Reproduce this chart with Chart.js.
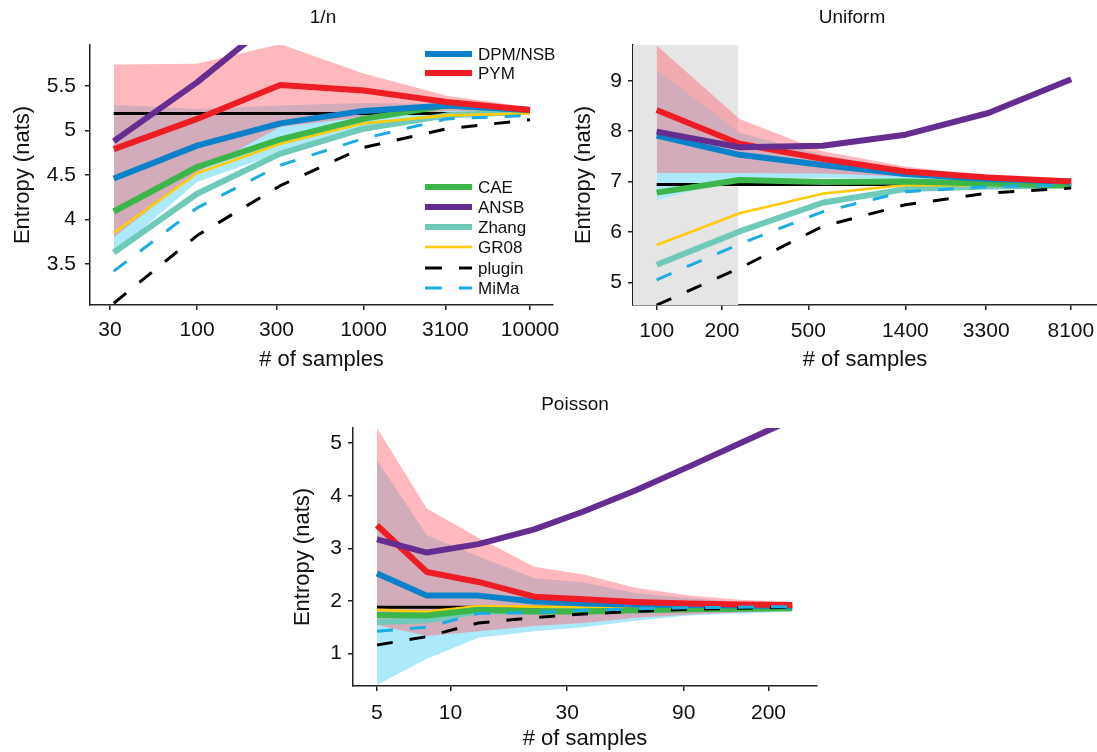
<!DOCTYPE html>
<html>
<head>
<meta charset="utf-8">
<title>Entropy estimators</title>
<script src="https://cdn.jsdelivr.net/npm/chart.js@4.4.1/dist/chart.umd.min.js"></script>
<style>
  body { margin: 0; background: #fff; width: 1097px; height: 752px; overflow: hidden; position: relative;
         font-family: "Liberation Sans", Arial, Helvetica, sans-serif; }
  canvas { position: absolute; }
  .panel-title { position: absolute; width: 240px; text-align: center; font-size: 19px; line-height: 20px; color: #111; z-index: 2; }
</style>
</head>
<body>
<canvas id="chartInvN" width="560" height="380" style="left:0;top:0"></canvas>
<canvas id="chartUniform" width="537" height="380" style="left:560px;top:0"></canvas>
<canvas id="chartPoisson" width="560" height="372" style="left:280px;top:380px"></canvas>
<div class="panel-title" style="left:203px;top:7px;">1/n</div>
<div class="panel-title" style="left:732px;top:7px;">Uniform</div>
<div class="panel-title" style="left:455px;top:394px;">Poisson</div>
<script>
// ---- 1/n panel ----
const invN_n = [31.6, 100, 316, 1000, 3162, 10000];
const invN_ticksX = [30, 100, 300, 1000, 3100, 10000];
const invN_ticksY = [3.5, 4, 4.5, 5, 5.5];
const invN_truth = [5.19, 5.19, 5.19, 5.19, 5.19, 5.19];
const invN_dpm = [4.46, 4.83, 5.08, 5.22, 5.28, 5.23];
const invN_pym = [4.79, 5.13, 5.51, 5.45, 5.32, 5.23];
const invN_cae = [4.09, 4.59, 4.9, 5.13, 5.28, 5.23];
const invN_ansb = [4.88, 5.54, 6.3, null, null, null];
const invN_zhang = [3.63, 4.29, 4.74, 5.02, 5.17, 5.21];
const invN_gr08 = [3.85, 4.52, 4.85, 5.08, 5.17, 5.19];
const invN_plugin = [3.06, 3.82, 4.38, 4.81, 5.02, 5.12];
const invN_mima = [3.42, 4.13, 4.61, 4.91, 5.13, 5.17];
const invN_cyanLo = [3.62, 4.42, 4.75, 5.05, 5.17, 5.2];
const invN_cyanHi = [5.29, 5.24, 5.28, 5.31, 5.3, 5.25];
const invN_pinkLo = [3.8, 4.53, 5.04, 5.15, 5.22, 5.22];
const invN_pinkHi = [5.74, 5.75, 5.97, 5.64, 5.39, 5.26];

// ---- Uniform panel ----
const uni_n = [100, 241, 581, 1400, 3375, 8130];
const uni_ticksX = [100, 200, 500, 1400, 3300, 8100];
const uni_ticksY = [5, 6, 7, 8, 9];
const uni_shadeEnd = 238;
const uni_truth = [6.94, 6.94, 6.94, 6.94, 6.94, 6.94];
const uni_dpm = [7.91, 7.53, 7.33, 7.15, 7.05, 7.0];
const uni_pym = [8.42, 7.75, 7.45, 7.2, 7.08, 7.0];
const uni_cae = [6.78, 7.03, 6.99, 7.0, 6.96, 6.92];
const uni_ansb = [7.99, 7.68, 7.71, 7.93, 8.36, 9.03];
const uni_zhang = [5.35, 6.01, 6.58, 6.85, 6.9, 6.92];
const uni_gr08 = [5.74, 6.37, 6.76, 6.93, 6.93, 6.93];
const uni_plugin = [4.55, 5.28, 6.11, 6.54, 6.77, 6.87];
const uni_mima = [5.05, 5.76, 6.4, 6.8, 6.9, 6.93];
const uni_cyanLo = [6.63, 7.06, 7.07, 7.05, 7.0, 6.97];
const uni_cyanHi = [9.22, 7.97, 7.53, 7.25, 7.08, 7.0];
const uni_pinkLo = [7.17, 7.17, 7.16, 7.1, 7.04, 7.0];
const uni_pinkHi = [9.7, 8.24, 7.6, 7.3, 7.1, 7.0];

// ---- Poisson panel ----
const poi_n = [5, 8, 13, 22, 35, 57, 94, 153, 250];
const poi_ticksX = [5, 10, 30, 90, 200];
const poi_ticksY = [1, 2, 3, 4, 5];
const poi_truth = [1.88, 1.88, 1.88, 1.88, 1.88, 1.88, 1.88, 1.88, 1.88];
const poi_dpm = [2.52, 2.1, 2.1, 1.99, 1.95, 1.93, 1.92, 1.91, 1.9];
const poi_pym = [3.44, 2.55, 2.36, 2.08, 2.03, 1.98, 1.95, 1.93, 1.92];
const poi_cae = [1.73, 1.72, 1.83, 1.8, 1.8, 1.82, 1.84, 1.85, 1.86];
const poi_ansb = [3.17, 2.92, 3.08, 3.36, 3.7, 4.1, 4.55, 5.0, 5.45];
const poi_zhang = [1.6, 1.63, 1.8, 1.8, 1.81, 1.83, 1.85, 1.86, 1.87];
const poi_gr08 = [1.83, 1.79, 1.9, 1.89, 1.88, 1.88, 1.88, 1.88, 1.88];
const poi_plugin = [1.16, 1.32, 1.58, 1.68, 1.75, 1.8, 1.84, 1.86, 1.88];
const poi_mima = [1.42, 1.5, 1.76, 1.78, 1.82, 1.85, 1.87, 1.88, 1.89];
const poi_cyanLo = [0.4, 0.9, 1.3, 1.42, 1.5, 1.62, 1.72, 1.76, 1.8];
const poi_cyanHi = [4.68, 3.25, 2.85, 2.43, 2.35, 2.15, 2.05, 1.98, 1.96];
const poi_pinkLo = [1.54, 1.33, 1.42, 1.52, 1.58, 1.68, 1.74, 1.78, 1.82];
const poi_pinkHi = [5.29, 3.76, 3.2, 2.65, 2.5, 2.25, 2.1, 2.02, 1.98];

// legend (only drawn on the 1/n panel)
const legendKeys = ['dpm', 'pym', 'cae', 'ansb', 'zhang', 'gr08', 'plugin', 'mima'];
const legendLabels = ['DPM/NSB', 'PYM', 'CAE', 'ANSB', 'Zhang', 'GR08', 'plugin', 'MiMa'];
const legendRowY = [54, 73, 187, 207, 227, 247, 268, 288];

const FONT = '"Liberation Sans", Arial, Helvetica, sans-serif';
Chart.defaults.font.family = FONT;
Chart.defaults.color = '#111';

const methodStyle = {
  truth:  { color: '#000000', width: 3,   dash: [] },
  plugin: { color: '#000000', width: 3,   dash: [16, 17] },
  mima:   { color: '#1cace2', width: 3,   dash: [16, 17] },
  zhang:  { color: '#6fcaba', width: 6,   dash: [] },
  gr08:   { color: '#ffcb0a', width: 2.6, dash: [] },
  cae:    { color: '#3cb54a', width: 6,   dash: [] },
  dpm:    { color: '#0b81c9', width: 6,   dash: [] },
  pym:    { color: '#ee1d25', width: 6,   dash: [] },
  ansb:   { color: '#662d91', width: 6,   dash: [] }
};
// first in this list ends up on top
const drawOrder = ['mima', 'plugin', 'ansb', 'pym', 'dpm', 'cae', 'gr08', 'zhang', 'truth'];

const CYAN_BAND = 'rgb(172, 233, 250)';
const PINK_BAND = 'rgba(255, 100, 112, 0.46)';

const toPoints = (xs, ys) => xs.map((x, i) => ({ x: x, y: ys[i] }));

const lineDataset = (key, xs, ys) => {
  const s = methodStyle[key];
  return {
    label: key,
    data: toPoints(xs, ys),
    borderColor: s.color,
    borderWidth: s.width,
    borderDash: s.dash,
    borderJoinStyle: 'round',
    pointRadius: 0,
    tension: 0,
    fill: false,
    order: drawOrder.indexOf(key) + 1
  };
};

// lower edge (invisible) followed by the upper edge filled down to it
const bandDatasets = (xs, lo, hi, color, order) => [
  { label: 'band-lo', data: toPoints(xs, lo), borderColor: 'rgba(0,0,0,0)', borderWidth: 0, pointRadius: 0, fill: false, order: order + 1 },
  { label: 'band-hi', data: toPoints(xs, hi), borderColor: 'rgba(0,0,0,0)', borderWidth: 0, pointRadius: 0, fill: '-1', backgroundColor: color, order: order }
];

const makeScales = (cfg) => ({
  x: {
    type: 'logarithmic',
    min: cfg.xMin,
    max: cfg.xMax,
    bounds: 'data',
    afterBuildTicks: (scale) => { scale.ticks = cfg.xTicks.map(v => ({ value: v })); },
    afterFit: (scale) => { scale.height = cfg.xHeight; scale.paddingLeft = 0; scale.paddingRight = 0; },
    ticks: { callback: (v) => String(v), autoSkip: false, maxRotation: 0, minRotation: 0,
             padding: cfg.xTickPad, font: { size: 21 }, color: '#111' },
    grid: { drawOnChartArea: false, drawTicks: true, tickLength: 5, color: '#222', lineWidth: 1.5 },
    border: { display: true, color: '#222', width: 1.5 },
    title: { display: true, text: '# of samples', font: { size: 22 }, color: '#111',
             padding: { top: 0, bottom: cfg.xTitlePad } }
  },
  y: {
    type: 'linear',
    min: cfg.yMin,
    max: cfg.yMax,
    bounds: 'data',
    afterBuildTicks: (scale) => { scale.ticks = cfg.yTicks.map(v => ({ value: v })); },
    afterFit: (scale) => { scale.width = cfg.yWidth; scale.paddingTop = 0; scale.paddingBottom = 0; },
    ticks: { callback: (v) => String(v), autoSkip: false, padding: cfg.yTickPad, font: { size: 21 }, color: '#111' },
    grid: { drawOnChartArea: false, drawTicks: true, tickLength: 5, color: '#222', lineWidth: 1.5 },
    border: { display: true, color: '#222', width: 1.5 },
    title: { display: true, text: 'Entropy (nats)', font: { size: 22 }, color: '#111',
             padding: { top: cfg.yTitlePad, bottom: 0 } }
  }
});

const splitLegend = {
  id: 'splitLegend',
  afterDraw(chart) {
    const ctx = chart.ctx;
    ctx.save();
    ctx.font = '17px ' + FONT;
    ctx.textBaseline = 'middle';
    ctx.textAlign = 'left';
    legendKeys.forEach((key, i) => {
      const s = methodStyle[key];
      const y = legendRowY[i];
      ctx.beginPath();
      ctx.strokeStyle = s.color;
      ctx.lineWidth = s.width;
      ctx.setLineDash(s.dash.length ? [17, 17] : []);
      ctx.moveTo(425, y);
      ctx.lineTo(472, y);
      ctx.stroke();
      ctx.setLineDash([]);
      ctx.fillStyle = '#111';
      ctx.fillText(legendLabels[i], 478, y + 1);
    });
    ctx.restore();
  }
};

const buildChart = (canvasId, xs, series, bands, extra, cfg, plugins) => {
  const datasets = []
    .concat(extra)
    .concat(bandDatasets(xs, bands.cyanLo, bands.cyanHi, CYAN_BAND, 40))
    .concat(bandDatasets(xs, bands.pinkLo, bands.pinkHi, PINK_BAND, 30));
  Object.keys(series).forEach(key => datasets.push(lineDataset(key, xs, series[key])));

  return new Chart(document.getElementById(canvasId).getContext('2d'), {
    type: 'line',
    data: { datasets: datasets },
    options: {
      responsive: false,
      animation: false,
      events: [],
      spanGaps: false,
      layout: { padding: cfg.padding },
      plugins: { legend: { display: false }, tooltip: { enabled: false }, title: { display: false } },
      scales: makeScales(cfg)
    },
    plugins: plugins || []
  });
};

// 1/n
buildChart('chartInvN', invN_n,
  { truth: invN_truth, zhang: invN_zhang, gr08: invN_gr08, cae: invN_cae, dpm: invN_dpm,
    pym: invN_pym, ansb: invN_ansb, plugin: invN_plugin, mima: invN_mima },
  { cyanLo: invN_cyanLo, cyanHi: invN_cyanHi, pinkLo: invN_pinkLo, pinkHi: invN_pinkHi },
  [],
  { xMin: 22.75, xMax: 13740, xTicks: invN_ticksX, yMin: 3.04, yMax: 5.96, yTicks: invN_ticksY,
    yWidth: 90, xHeight: 75, xTickPad: 8, yTickPad: 9, yTitlePad: 9.3, xTitlePad: 7,
    padding: { top: 45, right: 7, bottom: 0, left: 0 } },
  [splitLegend]);

// Uniform, grey shading for the small-sample region
const uniXMin = 77.8;
const uniYMax = 9.71;
buildChart('chartUniform', uni_n,
  { truth: uni_truth, zhang: uni_zhang, gr08: uni_gr08, cae: uni_cae, dpm: uni_dpm,
    pym: uni_pym, ansb: uni_ansb, plugin: uni_plugin, mima: uni_mima },
  { cyanLo: uni_cyanLo, cyanHi: uni_cyanHi, pinkLo: uni_pinkLo, pinkHi: uni_pinkHi },
  [{ label: 'shade', data: [{ x: uniXMin, y: uniYMax }, { x: uni_shadeEnd, y: uniYMax }],
     borderColor: 'rgba(0,0,0,0)', borderWidth: 0, pointRadius: 0, fill: 'start',
     backgroundColor: '#e5e5e5', order: 60 }],
  { xMin: uniXMin, xMax: 10690, xTicks: uni_ticksX, yMin: 4.55, yMax: uniYMax, yTicks: uni_ticksY,
    yWidth: 73, xHeight: 75, xTickPad: 8.4, yTickPad: 6, yTitlePad: 10.8, xTitlePad: 7,
    padding: { top: 45, right: 0, bottom: 0, left: 0 } });

// Poisson
buildChart('chartPoisson', poi_n,
  { truth: poi_truth, zhang: poi_zhang, gr08: poi_gr08, cae: poi_cae, dpm: poi_dpm,
    pym: poi_pym, ansb: poi_ansb, plugin: poi_plugin, mima: poi_mima },
  { cyanLo: poi_cyanLo, cyanHi: poi_cyanHi, pinkLo: poi_pinkLo, pinkHi: poi_pinkHi },
  [],
  { xMin: 3.99, xMax: 315.8, xTicks: poi_ticksX, yMin: 0.38, yMax: 5.29, yTicks: poi_ticksY,
    yWidth: 73, xHeight: 66, xTickPad: 10, yTickPad: 6, yTitlePad: 9.8, xTitlePad: 0,
    padding: { top: 48, right: 23, bottom: 0, left: 0 } });
</script>
</body>
</html>
